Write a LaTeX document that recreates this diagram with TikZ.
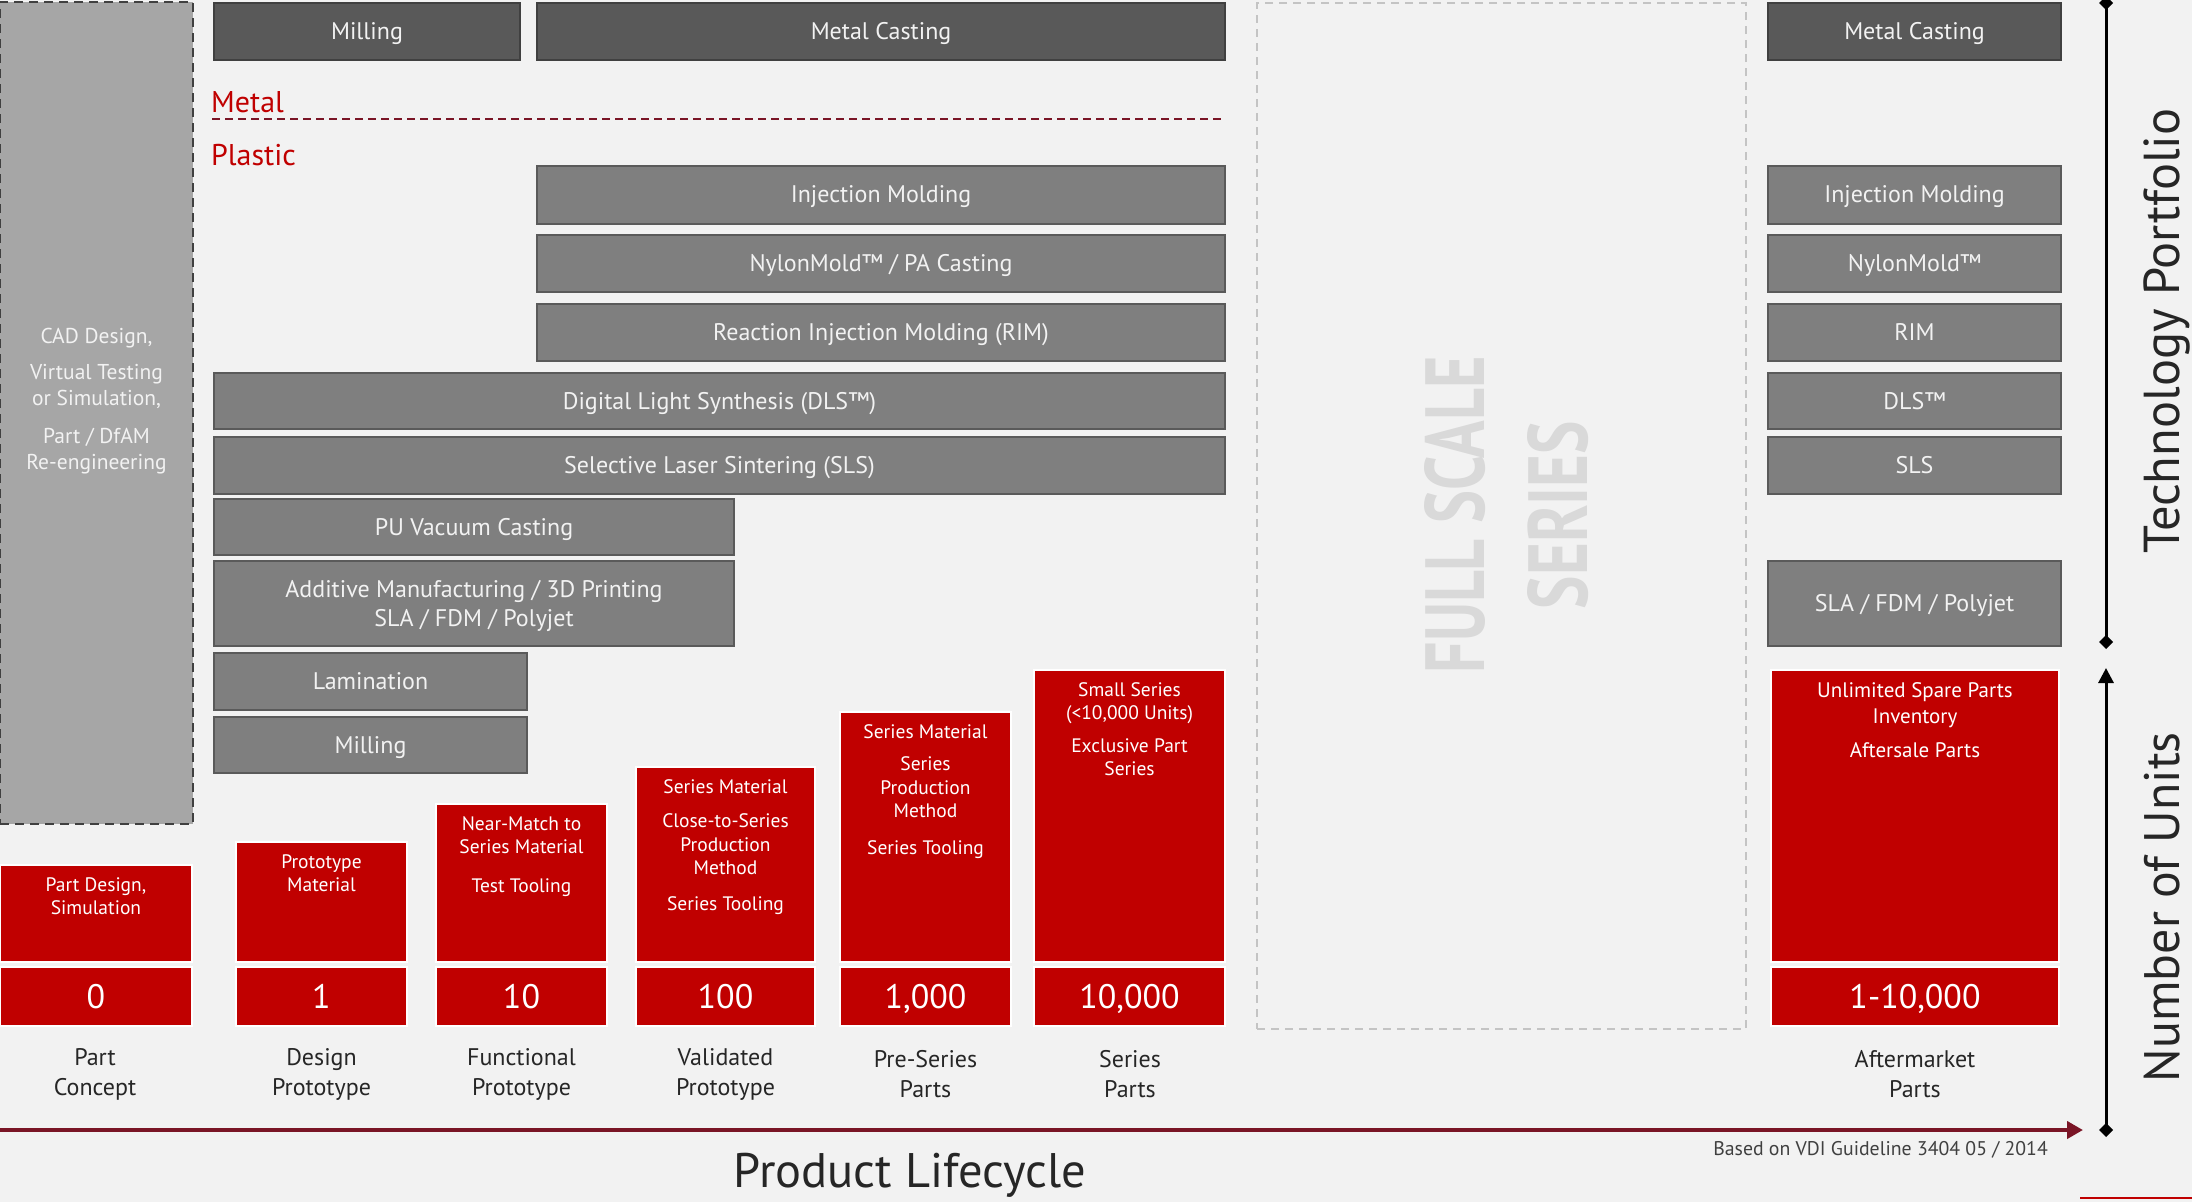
\documentclass[tikz,border=0pt]{standalone}
\usepackage{fontspec}
\usepackage{graphicx}
\setmainfont{PT Sans}
\usetikzlibrary{arrows.meta}
\definecolor{bg}{HTML}{F2F2F2}
\definecolor{darkbar}{HTML}{595959}
\definecolor{darkedge}{HTML}{404040}
\definecolor{midbar}{HTML}{7F7F7F}
\definecolor{midedge}{HTML}{5A5A5A}
\definecolor{redfill}{HTML}{C00000}
\definecolor{wine}{HTML}{7A1526}
\definecolor{cadgray}{HTML}{A6A6A6}
\definecolor{lbl}{HTML}{262626}
\definecolor{fsgray}{HTML}{D9D9D9}
\definecolor{fsedge}{HTML}{C4C4C4}
\newcommand\mybox[7]{\node[#2,minimum width={#5-#3},minimum height={#6-#4}] (#1) at ({(#3+#5)/2},{(#4+#6)/2}) {#7};}
\tikzset{
  barbase/.style={line width=2.5pt, inner sep=0pt, outer sep=0pt, text=bg, align=center, font=\fontsize{24}{29}\selectfont, text depth=1pt},
  darkbox/.style={barbase, draw=darkedge, fill=darkbar},
  midbox/.style={barbase, draw=midedge, fill=midbar},
  redbox/.style={draw=white, fill=redfill, line width=2pt, inner sep=0pt, outer sep=0pt},
  numbox/.style={redbox, text=white, font=\fontsize{34}{40}\selectfont, text height=24pt, text depth=0pt},
  redtxt/.style={text=white, font=\fontsize{19.5}{23.5}\selectfont, align=center, inner sep=0pt, anchor=north},
  stagelbl/.style={text=lbl, font=\fontsize{24}{30}\selectfont, align=center, inner sep=0pt},
  matlbl/.style={text=redfill, font=\fontsize{30}{36}\selectfont, inner sep=0pt, anchor=base west},
  axislbl/.style={text=lbl, inner sep=0pt, anchor=base, rotate=90, font=\fontsize{48}{56}\selectfont},
  fstext/.style={text=fsgray, inner sep=0pt, rotate=90, font=\bfseries\fontsize{60}{60}\selectfont},
  blkarrow/.style={line width=3pt, black},
}
\begin{document}
\begin{tikzpicture}[x=1pt,y=-1pt]
\fill[bg] (0,0) rectangle (2192,1202);
\useasboundingbox (0,0) rectangle (2192,1202);

% CAD design box
\node[draw=darkedge, fill=cadgray, line width=2.5pt, dash pattern=on 9pt off 6pt, minimum width=193pt, minimum height=822pt, inner sep=0pt] (cad) at (96.5,413) {};
\node[text=bg, font=\fontsize{21.5}{26}\selectfont, align=center, inner sep=0pt, anchor=north] (cadtxt) at (96.5,328) {CAD Design,\\[10pt]Virtual Testing\\or Simulation,\\[12pt]Part / DfAM\\Re-engineering};

% Full scale series box
\node[draw=fsedge, line width=2pt, dash pattern=on 8pt off 6pt, minimum width=489pt, minimum height=1026pt, inner sep=0pt] (fss) at (1501.5,516) {};
\node[fstext] (fs1) at (1455,515) {\resizebox{317pt}{60pt}{FULL SCALE}};
\node[fstext] (fs2) at (1558,515) {\resizebox{188pt}{60pt}{SERIES}};

% Metal row
\mybox{millM}{darkbox}{214}{3}{520}{60}{Milling}
\mybox{castM}{darkbox}{537}{3}{1225}{60}{Metal Casting}
\mybox{castR}{darkbox}{1768}{3}{2061}{60}{Metal Casting}

\node[matlbl] (metal) at (211,112) {Metal};
\node[matlbl] (plastic) at (211,165) {Plastic};
\coordinate (sepL) at (212,119);
\coordinate (sepR) at (1223,119);
\draw[wine, line width=1.5pt, dash pattern=on 8pt off 5pt] (sepL) -- (sepR);

% Plastic rows
\mybox{inj}{midbox}{537}{166}{1225}{224}{Injection Molding}
\mybox{nylon}{midbox}{537}{235}{1225}{292}{NylonMold™ / PA Casting}
\mybox{rim}{midbox}{537}{304}{1225}{361}{Reaction Injection Molding (RIM)}
\mybox{dls}{midbox}{214}{373}{1225}{429}{Digital Light Synthesis (DLS™)}
\mybox{sls}{midbox}{214}{437}{1225}{494}{Selective Laser Sintering (SLS)}
\mybox{pu}{midbox}{214}{499}{734}{555}{PU Vacuum Casting}
\mybox{am}{midbox}{214}{561}{734}{646}{Additive Manufacturing / 3D Printing\\SLA / FDM / Polyjet}
\mybox{lam}{midbox}{214}{653}{527}{710}{Lamination}
\mybox{millP}{midbox}{214}{717}{527}{773}{Milling}

\mybox{injR}{midbox}{1768}{166}{2061}{224}{Injection Molding}
\mybox{nylonR}{midbox}{1768}{235}{2061}{292}{NylonMold™}
\mybox{rimR}{midbox}{1768}{304}{2061}{361}{RIM}
\mybox{dlsR}{midbox}{1768}{373}{2061}{429}{DLS™}
\mybox{slsR}{midbox}{1768}{437}{2061}{494}{SLS}
\mybox{slaR}{midbox}{1768}{561}{2061}{646}{SLA / FDM / Polyjet}

% Red stage boxes
\mybox{c0}{redbox}{0}{865}{192}{962}{}
\mybox{c1}{redbox}{236}{842}{407}{962}{}
\mybox{c2}{redbox}{436}{804}{607}{962}{}
\mybox{c3}{redbox}{636}{767}{815}{962}{}
\mybox{c4}{redbox}{840}{712}{1011}{962}{}
\mybox{c5}{redbox}{1034}{670}{1225}{962}{}
\mybox{c6}{redbox}{1771}{670}{2059}{962}{}

\node[redtxt] (t0) at ([yshift=-12pt]c0.north) {Part Design,\\Simulation};
\node[redtxt] (t1) at ([yshift=-12pt]c1.north) {Prototype\\Material};
\node[redtxt] (t2) at ([yshift=-12pt]c2.north) {Near-Match to\\Series Material\\[15pt]Test Tooling};
\node[redtxt] (t3) at ([yshift=-12pt]c3.north) {Series Material\\[11pt]Close-to-Series\\Production\\Method\\[12pt]Series Tooling};
\node[redtxt] (t4) at ([yshift=-12pt]c4.north) {Series Material\\[9pt]Series\\Production\\Method\\[13pt]Series Tooling};
\node[redtxt] (t5) at ([yshift=-12pt]c5.north) {Small Series\\(<10,000 Units)\\[9pt]Exclusive Part\\Series};
\node[redtxt, font=\fontsize{21}{26}\selectfont] (t6) at ([yshift=-12pt]c6.north) {Unlimited Spare Parts\\Inventory\\[8pt]Aftersale Parts};

% Number boxes
\mybox{n0}{numbox}{0}{967}{192}{1026}{0}
\mybox{n1}{numbox}{236}{967}{407}{1026}{1}
\mybox{n2}{numbox}{436}{967}{607}{1026}{10}
\mybox{n3}{numbox}{636}{967}{815}{1026}{100}
\mybox{n4}{numbox}{840}{967}{1011}{1026}{1,000}
\mybox{n5}{numbox}{1034}{967}{1225}{1026}{10,000}
\mybox{n6}{numbox}{1771}{967}{2059}{1026}{1-10,000}

% Stage labels
\node[stagelbl] (l0) at (95,1074) {Part\\Concept};
\node[stagelbl] (l1) at (321.5,1074) {Design\\Prototype};
\node[stagelbl] (l2) at (521.5,1074) {Functional\\Prototype};
\node[stagelbl] (l3) at (725.5,1074) {Validated\\Prototype};
\node[stagelbl] (l4) at (925.5,1074) {Pre-Series\\Parts};
\node[stagelbl] (l5) at (1130,1074) {Series\\Parts};
\node[stagelbl] (l6) at (1915,1074) {Aftermarket\\Parts};

% Product lifecycle arrow
\coordinate (lcStart) at (0,1130);
\coordinate (lcEnd) at (2083,1130);
\draw[wine, line width=4pt, -{Triangle[length=16pt,width=17pt]}] (lcStart) -- (lcEnd);
\node[text=lbl, font=\fontsize{48.5}{56}\selectfont, inner sep=0pt, anchor=base] (plc) at (910,1187) {Product Lifecycle};
\node[text=darkedge, font=\fontsize{19.8}{23}\selectfont, inner sep=0pt, anchor=base east] (vdi) at (2048,1155) {Based on VDI Guideline 3404 05 / 2014};

% Vertical axes
\coordinate (tpTop) at (2106,-4);
\coordinate (tpBot) at (2106,649);
\draw[blkarrow, {Diamond[length=14pt,width=14pt]}-{Diamond[length=14pt,width=14pt]}] (tpTop) -- (tpBot);
\coordinate (nuTop) at (2106,668);
\coordinate (nuBot) at (2106,1137);
\draw[blkarrow, {Triangle[length=15pt,width=15pt]}-{Diamond[length=14pt,width=14pt]}] (nuTop) -- (nuBot);
\node[axislbl] (techport) at (2179,331) {\resizebox{445pt}{!}{Technology Portfolio}};
\node[axislbl] (numunits) at (2179,907) {\resizebox{350pt}{!}{Number of Units}};

% small red rule bottom right
\coordinate (rrL) at (2080,1198);
\coordinate (rrR) at (2192,1198);
\draw[redfill, line width=2pt] (rrL) -- (rrR);
\end{tikzpicture}
\end{document}
